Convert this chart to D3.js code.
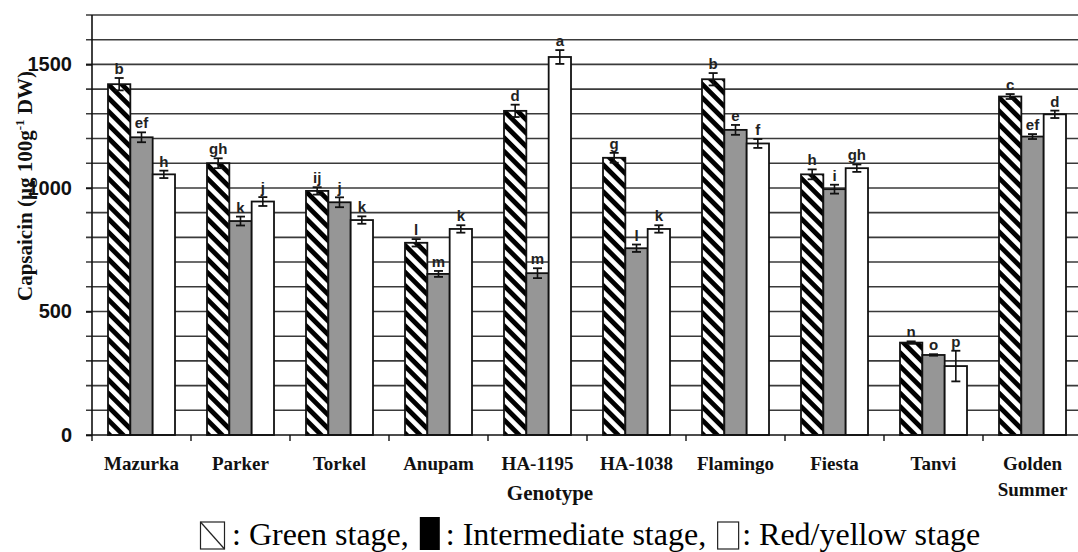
<!DOCTYPE html>
<html>
<head>
<meta charset="utf-8">
<script src="https://cdn.jsdelivr.net/npm/d3@7"></script>
<style>
  html, body { margin: 0; padding: 0; background: #fff; }
  svg { display: block; }
  .serif { font-family: "Liberation Serif", "Times New Roman", serif; }
  .sans { font-family: "Liberation Sans", Arial, sans-serif; }
</style>
</head>
<body>
<svg id="chart" width="1078" height="552"></svg>
<script>
const categories = ["Mazurka","Parker","Torkel","Anupam","HA-1195","HA-1038","Flamingo","Fiesta","Tanvi","Golden Summer"];
const series = ["Green stage","Intermediate stage","Red/yellow stage"];
const greenValues = [1420,1100,988,778,1312,1122,1440,1055,374,1370];
const greenErrors = [25,20,15,15,25,20,25,20,5,10];
const intermediateValues = [1205,866,942,652,655,756,1235,995,324,1208];
const intermediateErrors = [20,18,20,12,20,15,20,18,3,10];
const redValues = [1055,945,870,834,1530,834,1180,1080,279,1298];
const redErrors = [15,18,15,15,28,15,18,15,62,15];
const greenLetters = ["b","gh","ij","l","d","g","b","h","n","c"];
const intermediateLetters = ["ef","k","j","m","m","l","e","i","o","ef"];
const redLetters = ["h","j","k","k","a","k","f","gh","p","d"];
const yTickValues = [0,500,1000,1500];
const yGridValues = d3.range(100, 1701, 100);

const svg = d3.select("#chart");
const defs = svg.append("defs");
const pat = defs.append("pattern")
  .attr("id","hatch").attr("patternUnits","userSpaceOnUse")
  .attr("width",9.5).attr("height",9.5)
  .attr("patternTransform","rotate(45)");
pat.append("rect").attr("width",9.5).attr("height",9.5).attr("fill","#fff");
pat.append("rect").attr("width",9.5).attr("height",4.8).attr("fill","#000");

const mLeft = 92, mBottom = 435, mRight = 1082, mTop = 15;
const y = d3.scaleLinear().domain([0,1700]).range([mBottom, mTop]);
const x0 = d3.scaleBand().domain(categories).range([mLeft, mRight]).paddingInner(0.3232).paddingOuter(0.1616);
const x1 = d3.scaleBand().domain(series).range([0, x0.bandwidth()]);
const step = x0.step();

// gridlines
svg.append("g").selectAll("line").data(yGridValues).join("line")
  .attr("x1", mLeft - 6).attr("x2", 1078)
  .attr("y1", d => y(d)).attr("y2", d => y(d))
  .attr("stroke", "#3a3a3a").attr("stroke-width", 1.6);

const data = categories.map((c, i) => ({
  cat: c,
  vals: [
    {s: series[0], v: greenValues[i], e: greenErrors[i], l: greenLetters[i], fill: "url(#hatch)"},
    {s: series[1], v: intermediateValues[i], e: intermediateErrors[i], l: intermediateLetters[i], fill: "#969696"},
    {s: series[2], v: redValues[i], e: redErrors[i], l: redLetters[i], fill: "#fff"}
  ]
}));

const groups = svg.append("g").selectAll("g").data(data).join("g")
  .attr("transform", d => `translate(${x0(d.cat)},0)`);

groups.selectAll("rect").data(d => d.vals).join("rect")
  .attr("x", d => x1(d.s)).attr("width", x1.bandwidth())
  .attr("y", d => y(d.v)).attr("height", d => y(0) - y(d.v))
  .attr("fill", d => d.fill).attr("stroke", "#111").attr("stroke-width", 1.8);

// error bars
const eb = groups.selectAll("g.eb").data(d => d.vals).join("g").attr("class","eb");
eb.append("line")
  .attr("x1", d => x1(d.s) + x1.bandwidth()/2).attr("x2", d => x1(d.s) + x1.bandwidth()/2)
  .attr("y1", d => y(d.v + d.e)).attr("y2", d => y(d.v - d.e))
  .attr("stroke","#111").attr("stroke-width",1.6);
eb.selectAll("line.cap").data(d => [{d, v: d.v + d.e}, {d, v: d.v - d.e}]).join("line")
  .attr("class","cap")
  .attr("x1", c => x1(c.d.s) + x1.bandwidth()/2 - 4.5).attr("x2", c => x1(c.d.s) + x1.bandwidth()/2 + 4.5)
  .attr("y1", c => y(c.v)).attr("y2", c => y(c.v))
  .attr("stroke","#111").attr("stroke-width",1.8);
eb.append("text").attr("class","sans")
  .attr("x", d => x1(d.s) + x1.bandwidth()/2)
  .attr("y", d => y(d.v + d.e) - 4)
  .attr("text-anchor","middle")
  .attr("font-weight","bold").attr("font-size",15).attr("fill","#222")
  .text(d => d.l);

// axes
svg.append("line").attr("x1", mLeft).attr("x2", mLeft).attr("y1", y(1700)).attr("y2", mBottom)
  .attr("stroke","#111").attr("stroke-width",1.6);
svg.append("line").attr("x1", mLeft - 6).attr("x2", 1078).attr("y1", mBottom).attr("y2", mBottom)
  .attr("stroke","#111").attr("stroke-width",1.6);
const yAxis = d3.axisLeft(y).tickValues(yTickValues).tickSize(6).tickPadding(8).tickFormat(d3.format("d"));
const ya = svg.append("g").attr("transform", `translate(${mLeft},0)`).call(yAxis);
ya.attr("font-family", null).attr("font-size", null);
ya.select(".domain").remove();
ya.selectAll(".tick line").attr("stroke","#111").attr("stroke-width",1.6);
ya.selectAll(".tick text").attr("class","sans")
  .attr("font-weight","bold").attr("font-size",20).attr("fill","#111").attr("dx", -6);

// x ticks at band boundaries
const boundaries = categories.map(c => x0(c) - step * x0.paddingInner() / 2);
svg.append("g").selectAll("line").data(boundaries).join("line")
  .attr("x1", d => d).attr("x2", d => d).attr("y1", mBottom).attr("y2", mBottom + 6)
  .attr("stroke","#111").attr("stroke-width",1.4);

// category labels
const catG = svg.append("g").selectAll("text").data(categories).join("text")
  .attr("class","serif")
  .attr("x", d => x0(d) + x0.bandwidth()/2).attr("y", 470)
  .attr("text-anchor","middle")
  .attr("font-weight","bold").attr("font-size",19).attr("fill","#111");
catG.each(function(d) {
  const parts = d === "Golden Summer" ? ["Golden","Summer"] : [d];
  const t = d3.select(this);
  parts.forEach((p, i) => t.append("tspan").attr("x", x0(d) + x0.bandwidth()/2).attr("dy", i === 0 ? 0 : 26).text(p));
});

svg.append("text").attr("class","serif").attr("x", 550).attr("y", 500).attr("text-anchor","middle")
  .attr("font-weight","bold").attr("font-size",21).attr("fill","#111").text("Genotype");

// y title
const yt = svg.append("text").attr("class","serif").attr("transform","translate(32,186) rotate(-90)")
  .attr("text-anchor","middle")
  .attr("font-weight","bold").attr("font-size",21).attr("fill","#111");
yt.append("tspan").text("Capsaicin (µg 100g");
yt.append("tspan").attr("font-size",13).attr("dy",-8).text("-1");
yt.append("tspan").attr("dy",8).text(" DW)");

// legend
const lg = svg.append("g");
const lsize = 32;
let cx = 200;
function ltext(str) {
  const t = lg.append("text").attr("class","serif").attr("x", cx).attr("y", 545)
    .attr("font-size", lsize).attr("fill","#000").text(str);
  cx += t.node().getComputedTextLength();
}
lg.append("rect").attr("x", cx + 0.5).attr("y", 522).attr("width", 24).attr("height", 27)
  .attr("fill","#fff").attr("stroke","#222").attr("stroke-width",1.2);
lg.append("line").attr("x1", cx + 0.5).attr("y1", 522).attr("x2", cx + 24.5).attr("y2", 549)
  .attr("stroke","#222").attr("stroke-width",1.2);
cx += 32;
ltext(": " + series[0] + ",");
cx += 11;
lg.append("rect").attr("x", cx).attr("y", 517).attr("width", 20).attr("height", 33).attr("fill","#000");
cx += 26;
ltext(": " + series[1] + ",");
cx += 11;
lg.append("rect").attr("x", cx + 0.5).attr("y", 522).attr("width", 21).attr("height", 27)
  .attr("fill","#fff").attr("stroke","#222").attr("stroke-width",1.2);
cx += 25;
ltext(": " + series[2]);
</script>
</body>
</html>
